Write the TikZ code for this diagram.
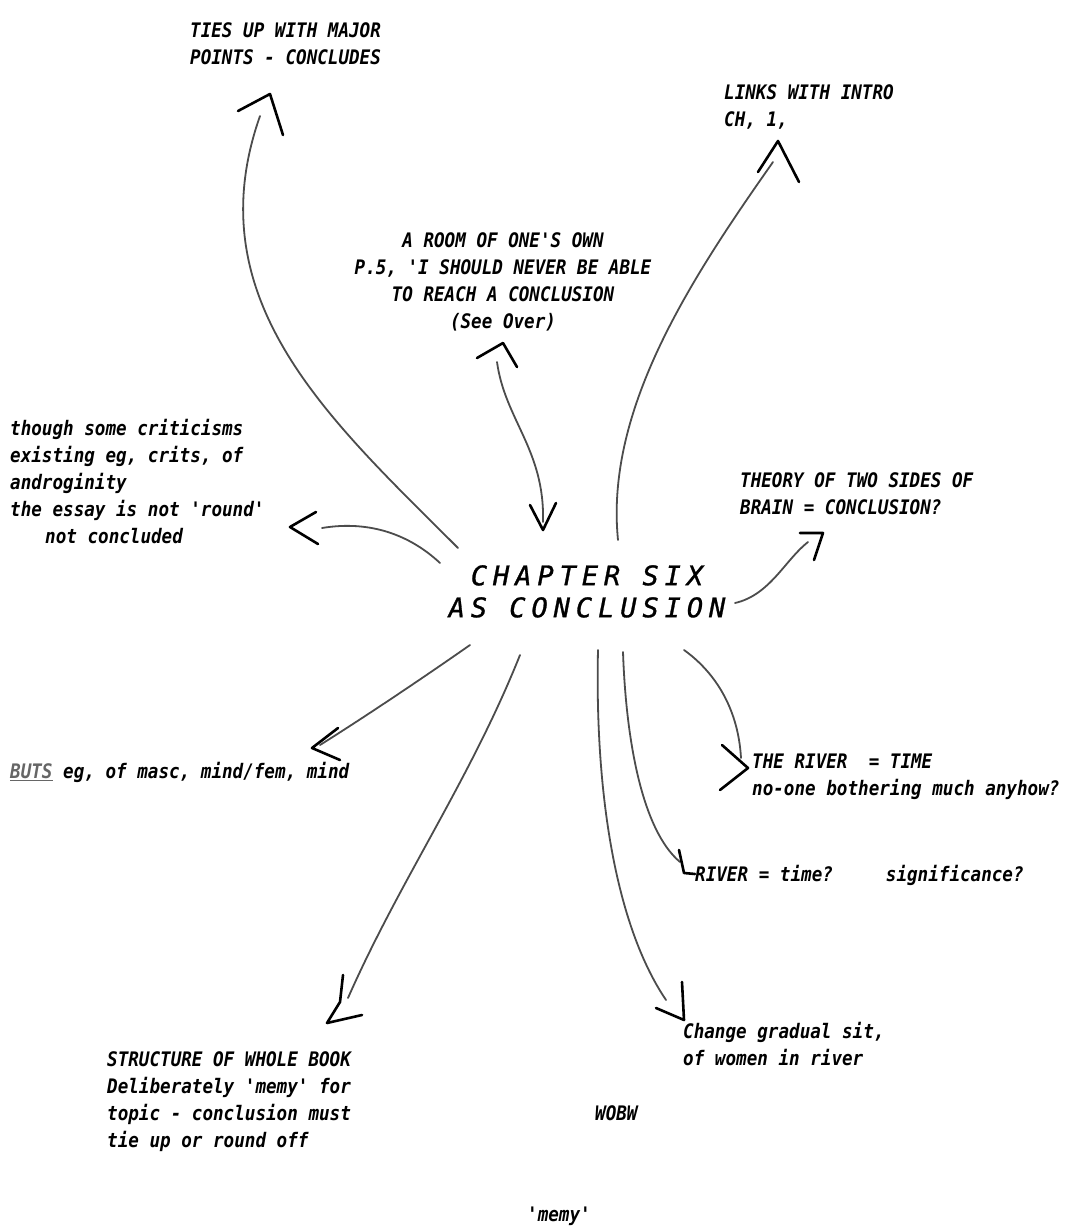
\documentclass[tikz,border=0pt]{standalone}
\usepackage{fontspec}
\newfontfamily\dotfont[FakeStretch=0.88]{DejaVu Sans Mono Bold Oblique}
\newfontfamily\titlefont[LetterSpace=22,FakeBold=1]{DejaVu Sans Mono Oblique}
\begin{document}
\begin{tikzpicture}[x=1pt,y=-1pt,
  note/.style={anchor=north west,inner sep=0pt,align=left,font=\dotfont\fontsize{20}{27}\selectfont},
  cnote/.style={note,anchor=north,align=center},
  title/.style={anchor=north,inner sep=0pt,align=center,font=\titlefont\fontsize{27}{32}\selectfont},
  link/.style={draw=black!70,line width=1.8pt,line cap=round},
  head/.style={draw=black,line width=2.6pt,line cap=round,line join=round}]
\useasboundingbox[fill=white] (0,0) rectangle (1077,1228);

% texts
\node[note] (ties) at (190,22) {TIES UP WITH MAJOR\\POINTS - CONCLUDES};
\node[note] (links) at (724,84) {LINKS WITH INTRO\\CH, 1,};
\node[cnote] (room) at (503,232) {A ROOM OF ONE'S OWN\\P.5, 'I SHOULD NEVER BE ABLE\\TO REACH A CONCLUSION\\(See Over)};
\node[note] (crit) at (10,419) {though some criticisms\\existing eg, crits, of\\androginity\\the essay is not 'round'\\\hspace*{35pt}not concluded};
\node[note] (theory) at (740,472) {THEORY OF TWO SIDES OF\\BRAIN = CONCLUSION?};
\node[title] (chap) at (587,565) {CHAPTER SIX\\AS CONCLUSION};
\node[note] (river1) at (752,754) {THE RIVER~~= TIME\\no-one bothering much anyhow?};
\node[note] (buts) at (10,762) {{\color{black!60}\underline{BUTS}} eg, of masc, mind/fem, mind};
\node[note] (river2) at (695,865) {RIVER = time?~~~~~significance?};
\node[note] (struct) at (107,1051) {STRUCTURE OF WHOLE BOOK\\Deliberately 'memy' for\\topic - conclusion must\\tie up or round off};
\node[note] (change) at (683,1022) {Change gradual sit,\\of women in river};
\node[note] (wobw) at (595,1105) {WOBW};
\node[note] (memy) at (527,1207) {'memy'};

% connector end points
\coordinate (a0) at (458,548); \coordinate (a1) at (260,116);
\coordinate (b0) at (618,540); \coordinate (b1) at (773,162);
\coordinate (c0) at (497,362); \coordinate (c1) at (543,522);
\coordinate (d0) at (440,563); \coordinate (d1) at (322,528);
\coordinate (e0) at (735,603); \coordinate (e1) at (808,542);
\coordinate (f0) at (684,650); \coordinate (f1) at (741,758);
\coordinate (g0) at (470,645); \coordinate (g1) at (320,745);
\coordinate (h0) at (623,652); \coordinate (h1) at (680,862);
\coordinate (i0) at (520,655); \coordinate (i1) at (348,998);
\coordinate (j0) at (598,650); \coordinate (j1) at (666,1000);

% connectors
\draw[link] (a0) .. controls (330,420) and (195,300) .. (a1);
\draw[link] (b0) .. controls (605,410) and (690,280) .. (b1);
\draw[link] (c0) .. controls (505,420) and (545,450) .. (c1);
\draw[link] (d0) .. controls (410,535) and (370,520) .. (d1);
\draw[link] (e0) .. controls (770,595) and (785,560) .. (e1);
\draw[link] (f0) .. controls (712,670) and (738,705) .. (f1);
\draw[link] (g0) .. controls (420,680) and (360,720) .. (g1);
\draw[link] (h0) .. controls (626,740) and (642,830) .. (h1);
\draw[link] (i0) .. controls (470,780) and (400,880) .. (i1);
\draw[link] (j0) .. controls (595,780) and (612,920) .. (j1);

% hand-drawn heads
\draw[head] (238,111) -- (270,94) -- (283,135);
\draw[head] (758,172) -- (778,141) -- (799,182);
\draw[head] (477,358) -- (503,343) -- (517,367);
\draw[head] (530,505) -- (543,530) -- (556,503);
\draw[head] (316,512) -- (290,527) -- (318,544);
\draw[head] (800,533) -- (823,533) -- (814,560);
\draw[head] (722,745) -- (748,768) -- (720,790);
\draw[head] (338,728) -- (312,748) -- (340,760);
\draw[head] (679,850) -- (684,873) -- (695,874);
\draw[head] (343,975) -- (340,1002) -- (327,1023) -- (362,1015);
\draw[head] (682,982) -- (684,1020) -- (656,1008);
\end{tikzpicture}
\end{document}
